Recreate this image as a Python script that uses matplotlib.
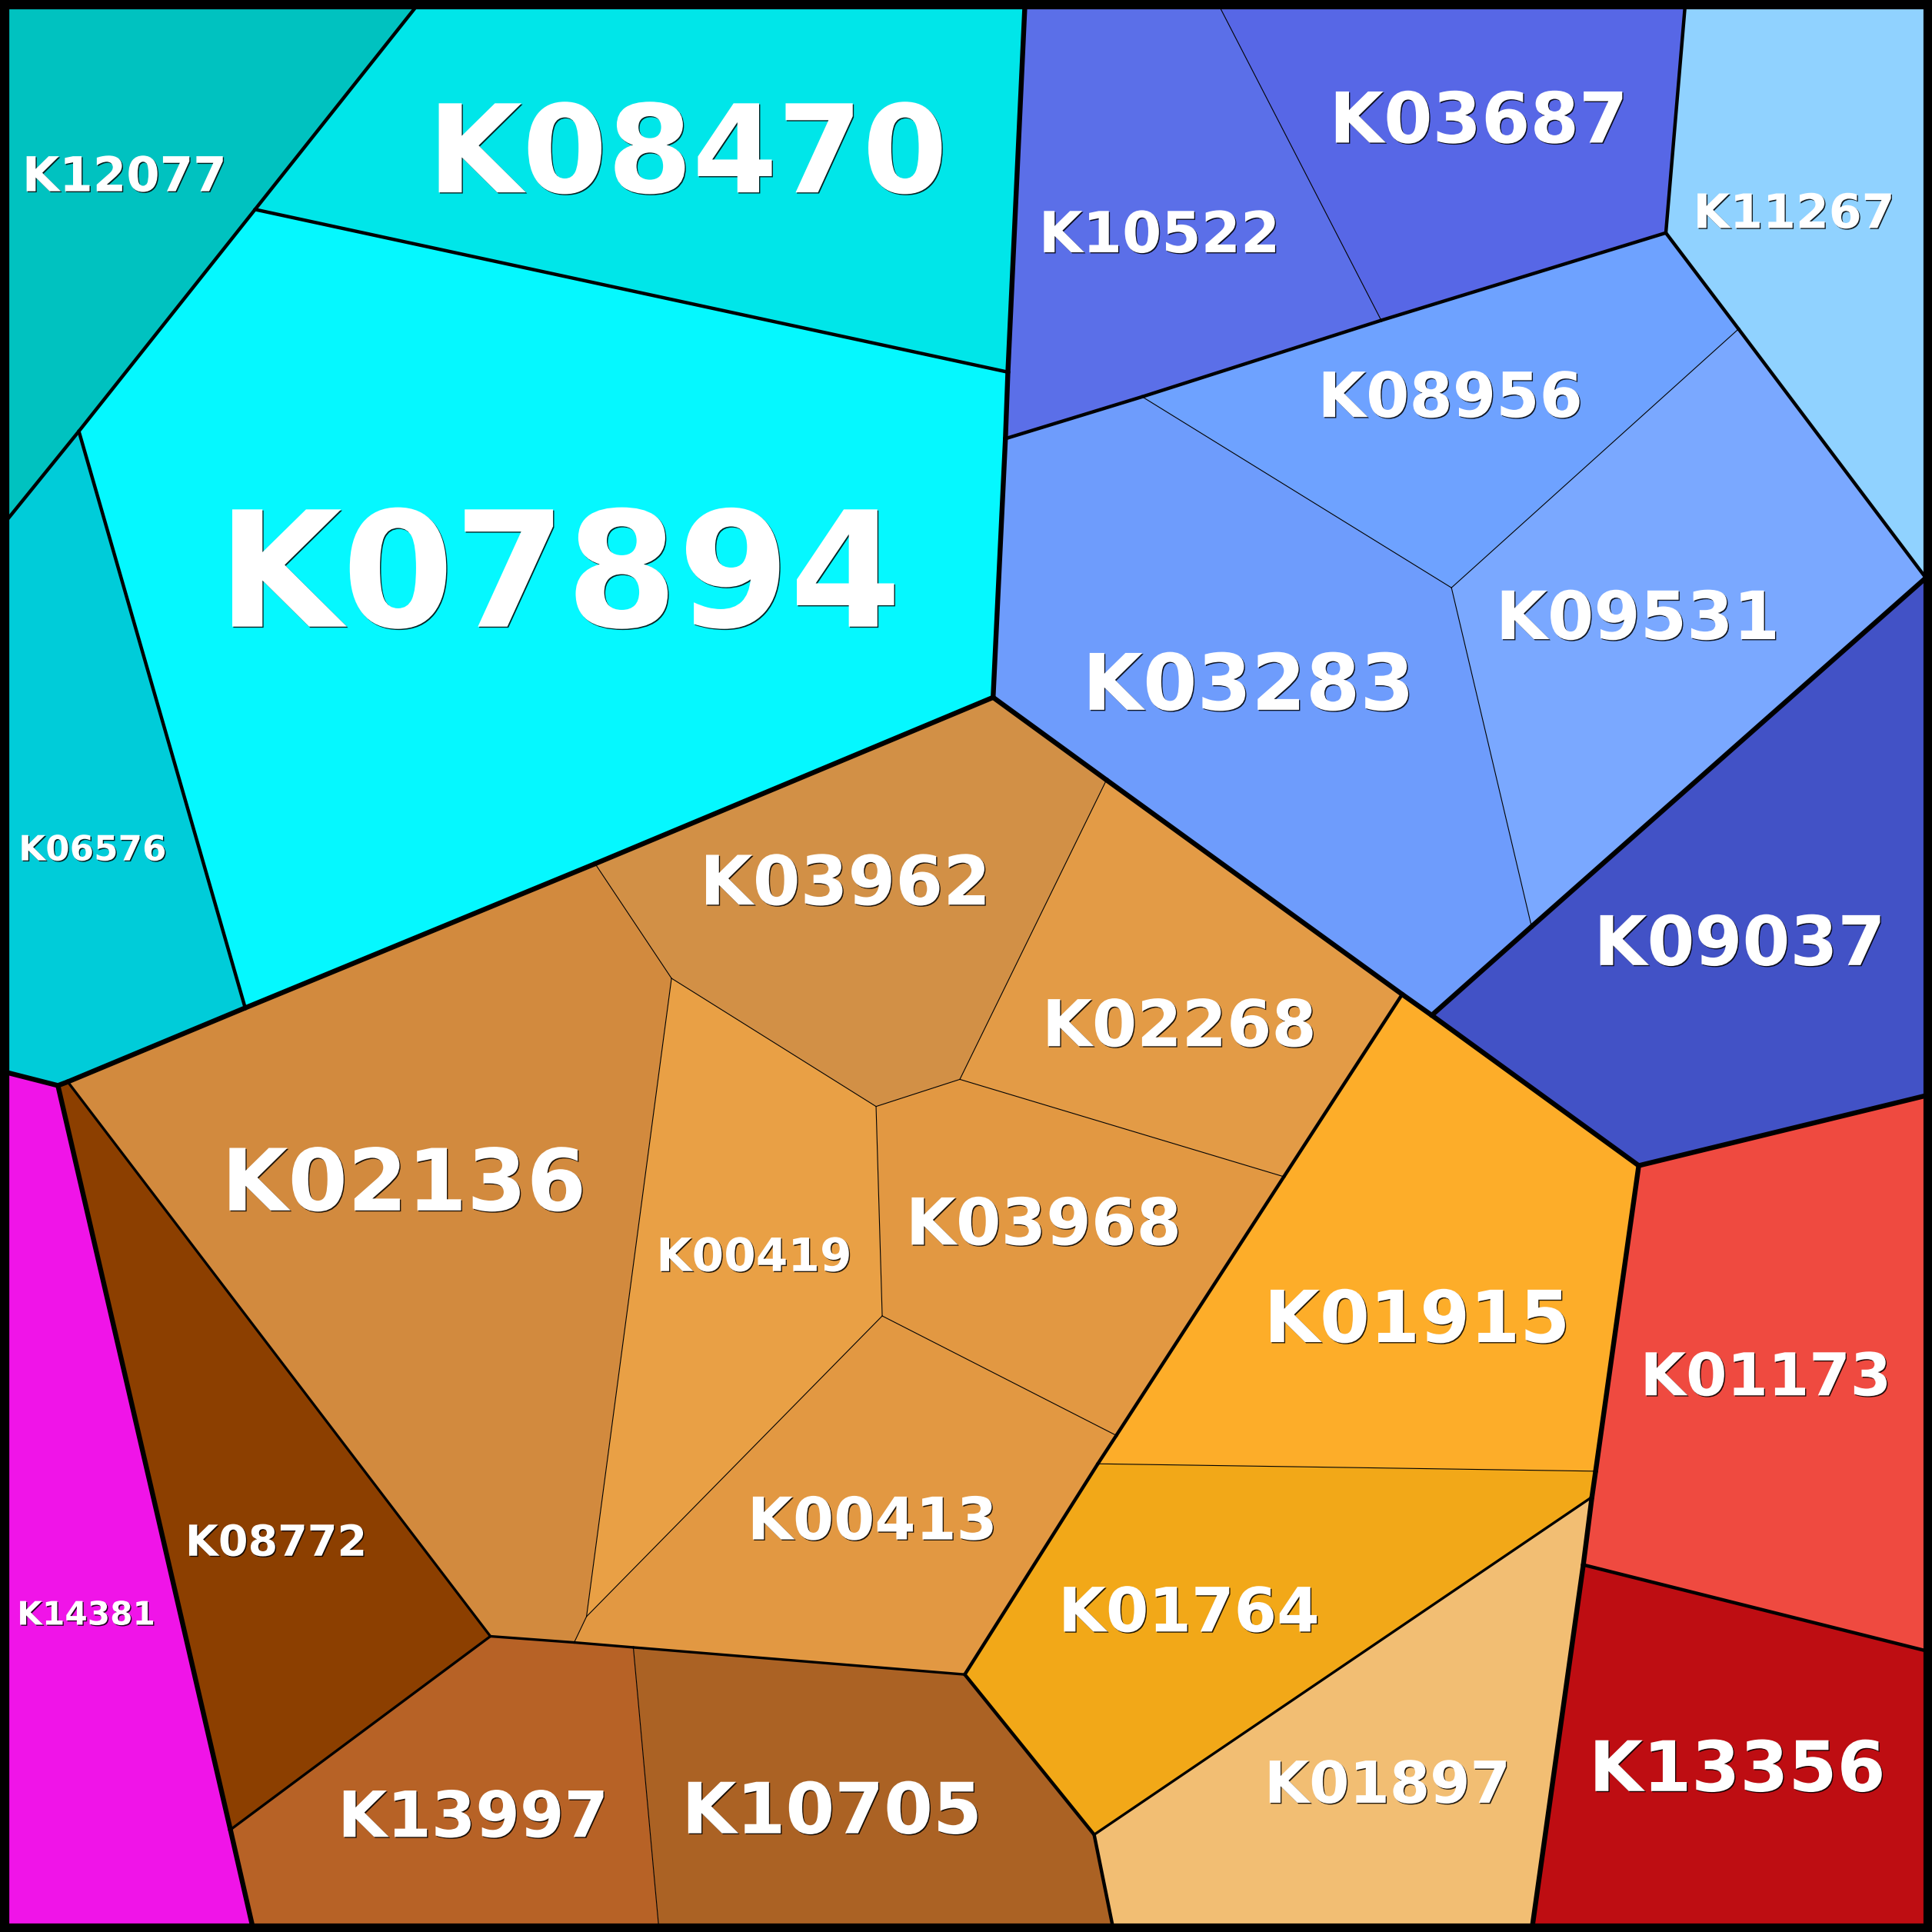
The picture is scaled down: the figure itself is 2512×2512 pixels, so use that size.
import matplotlib
matplotlib.use("Agg")
import matplotlib.pyplot as plt
import matplotlib.patheffects as pe
from matplotlib.patches import Polygon, Rectangle

SIZE = 1568  # drawing units, picture is square
UNIT_PT = 2512 / SIZE * 72 / 100  # points per drawing unit

# cell corners (y goes down)
points = {
    "TL": (0, 0), "TR": (1568, 0), "BL": (0, 1568), "BRc": (1568, 1568),
    "A": (342, 0), "E": (832, 0), "BI": (987, 0), "BJ": (1368, 0),
    "D": (0, 429), "ML": (0, 869), "RC1": (1568, 469), "RE1": (1568, 888),
    "RE2": (1568, 1341), "BL2": (206, 1568), "B13": (535, 1568),
    "B10": (904, 1568), "BR": (1243, 1568),
    "B": (207, 170), "C": (64, 350), "F": (818, 302), "G": (816, 356),
    "H": (806, 566), "I": (483, 701), "J": (199, 818), "K": (47, 881),
    "K2": (55, 878), "L": (898, 633), "P": (1138, 807), "BA": (1162, 824),
    "AA": (1330, 946), "M": (779, 876), "N": (711, 898), "O": (545, 794),
    "Q": (1042, 955), "R": (906, 1165), "S": (716, 1068), "T": (476, 1312),
    "U": (466, 1333), "X": (398, 1328), "W": (514, 1337), "V": (783, 1359),
    "Z": (888, 1489), "Y": (187, 1485), "AC": (891, 1188),
    "AB": (1295, 1194), "AD": (1292, 1215), "AE": (1285, 1270),
    "BD": (927, 322), "BG": (1121, 260), "BH": (1352, 189),
    "BE": (1178, 477), "BF": (1411, 267), "BB": (1243, 752),
    "BC": (1563, 469),
}

cells = {
    "K12077": ["TL", "A", "B", "C", "D"],
    "K08470": ["A", "E", "F", "B"],
    "K07894": ["B", "F", "G", "H", "I", "J", "C"],
    "K06576": ["D", "C", "J", "K2", "K", "ML"],
    "K14381": ["ML", "K", "Y", "BL2", "BL"],
    "K03962": ["I", "H", "L", "M", "N", "O"],
    "K02268": ["L", "P", "Q", "M"],
    "K03968": ["N", "M", "Q", "R", "S"],
    "K00419": ["O", "N", "S", "T"],
    "K00413": ["S", "R", "AC", "V", "W", "U", "T"],
    "K02136": ["K2", "J", "I", "O", "T", "U", "X"],
    "K08772": ["K", "K2", "X", "Y"],
    "K13997": ["Y", "X", "U", "W", "B13", "BL2"],
    "K10705": ["W", "V", "Z", "B10", "B13"],
    "K01915": ["P", "BA", "AA", "AB", "AC", "R", "Q"],
    "K01764": ["AC", "AB", "AD", "Z", "V"],
    "K01897": ["AD", "AE", "BR", "B10", "Z"],
    "K01173": ["AA", "RE1", "RE2", "AE", "AD", "AB"],
    "K13356": ["AE", "RE2", "BRc", "BR"],
    "K10522": ["E", "BI", "BG", "BD", "G", "F"],
    "K03687": ["BI", "BJ", "BH", "BG"],
    "K08956": ["BD", "BG", "BH", "BF", "BE"],
    "K03283": ["G", "BD", "BE", "BB", "BA", "P", "L", "H"],
    "K09531": ["BE", "BF", "BC", "BB"],
    "K11267": ["BJ", "TR", "RC1", "BC", "BF", "BH"],
    "K09037": ["BA", "BB", "BC", "RC1", "RE1", "AA"],
}

colors = {
    "K12077": "#00C2C0", "K08470": "#00E6E9", "K07894": "#05F8FF",
    "K06576": "#00CCD9", "K14381": "#F014E8", "K03962": "#D29046",
    "K02268": "#E39B46", "K03968": "#E29842", "K00419": "#E9A045",
    "K00413": "#E29842", "K02136": "#D28A3E", "K08772": "#8C3F00",
    "K13997": "#B76226", "K10705": "#AB6224", "K01915": "#FDAD29",
    "K01764": "#F2A818", "K01897": "#F2BE73", "K01173": "#EF4A40",
    "K13356": "#BE0D12", "K10522": "#5B6FE8", "K03687": "#5767E6",
    "K08956": "#6EA2FF", "K03283": "#6E9CFC", "K09531": "#7AA8FF",
    "K11267": "#90D2FF", "K09037": "#4252C6",
}

# group membership, top level first
hier = {
    "K12077": ("cyan", "c1", "c1"), "K08470": ("cyan", "c2", "c2"),
    "K07894": ("cyan", "c3", "c3"), "K06576": ("cyan", "c4", "c4"),
    "K10522": ("blue", "b1", "b1"), "K03687": ("blue", "b1", "b1"),
    "K08956": ("blue", "b2", "b2"), "K03283": ("blue", "b2", "b2"),
    "K09531": ("blue", "b2", "b2"), "K11267": ("blue", "b3", "b3"),
    "K09037": ("navy", "n", "n"),
    "K03962": ("warm", "brown", "br1"), "K02268": ("warm", "brown", "br1"),
    "K03968": ("warm", "brown", "br1"), "K00419": ("warm", "brown", "br1"),
    "K00413": ("warm", "brown", "br1"), "K02136": ("warm", "brown", "br1"),
    "K08772": ("warm", "brown", "br2"), "K13997": ("warm", "brown", "br3"),
    "K10705": ("warm", "brown", "br3"),
    "K01915": ("warm", "orange", "o1"), "K01764": ("warm", "orange", "o1"),
    "K01897": ("warm", "orange", "o2"),
    "K01173": ("red", "r1", "r1"), "K13356": ("red", "r2", "r2"),
    "K14381": ("mag", "m", "m"),
}
LEVEL_LW = [4.6, 3.2, 2.4, 0.8]

# label centre x, centre y, ink width
labels = {
    "K12077": (101, 141, 162), "K08470": (558, 120, 412),
    "K07894": (454, 461, 542), "K06576": (75, 688, 117),
    "K10522": (941, 188, 192), "K03687": (1200, 95, 236),
    "K11267": (1456, 171, 160), "K08956": (1177, 320, 210),
    "K09531": (1329, 499, 225), "K03283": (1013, 553, 263),
    "K09037": (1412, 763, 230), "K03962": (686, 714, 230),
    "K02268": (957, 830, 218), "K02136": (328, 957, 289),
    "K00419": (612, 1018, 155), "K03968": (847, 991, 218),
    "K01915": (1150, 1068, 243), "K01173": (1433, 1115, 199),
    "K08772": (224, 1250, 144), "K14381": (70, 1309, 110),
    "K00413": (708, 1232, 198), "K01764": (965, 1306, 207),
    "K01897": (1126, 1446, 195), "K13356": (1410, 1433, 235),
    "K13997": (384, 1472, 214), "K10705": (675, 1467, 238),
}

fig = plt.figure(figsize=(25.12, 25.12), dpi=100)
ax = fig.add_axes([0, 0, 1, 1])
ax.set_xlim(0, SIZE)
ax.set_ylim(SIZE, 0)
ax.axis("off")

for name, verts in cells.items():
    xy = [points[v] for v in verts]
    ax.add_patch(Polygon(xy, closed=True, facecolor=colors[name],
                         edgecolor="none", zorder=1))

# edges, thicker where higher-level groups meet
edges = {}
for name, verts in cells.items():
    for a, b in zip(verts, verts[1:] + verts[:1]):
        edges.setdefault(tuple(sorted((a, b))), []).append(name)

for (a, b), owners in edges.items():
    if len(owners) == 1:
        lvl = 0
    else:
        p, q = hier[owners[0]], hier[owners[1]]
        lvl = next((i for i in range(len(p)) if p[i] != q[i]), len(p))
    (x0, y0), (x1, y1) = points[a], points[b]
    ax.plot([x0, x1], [y0, y1], color="black", lw=LEVEL_LW[lvl],
            solid_capstyle="round", zorder=2 + (3 - lvl) * 0.1)

ax.add_patch(Rectangle((3.5, 3.5), SIZE - 7, SIZE - 7, fill=False,
                       edgecolor="black", lw=7 * UNIT_PT, zorder=5))

renderer = fig.canvas.get_renderer()
shadow = [pe.withSimplePatchShadow(offset=(1.0, -1.0), shadow_rgbFace="black", alpha=0.85)]
for name, (cx, cy, w) in labels.items():
    t = ax.text(cx, cy, name, fontsize=10, fontweight="bold",
                family="DejaVu Sans", color="white", ha="center",
                va="baseline", zorder=6, path_effects=shadow)
    bw = t.get_window_extent(renderer).width
    fs = 10 * (w * 1.025 * 2512 / SIZE) / bw
    t.set_fontsize(fs)
    cap = 0.729 * fs / UNIT_PT
    t.set_y(cy + cap / 2)

fig.savefig("out.png", dpi=100)
